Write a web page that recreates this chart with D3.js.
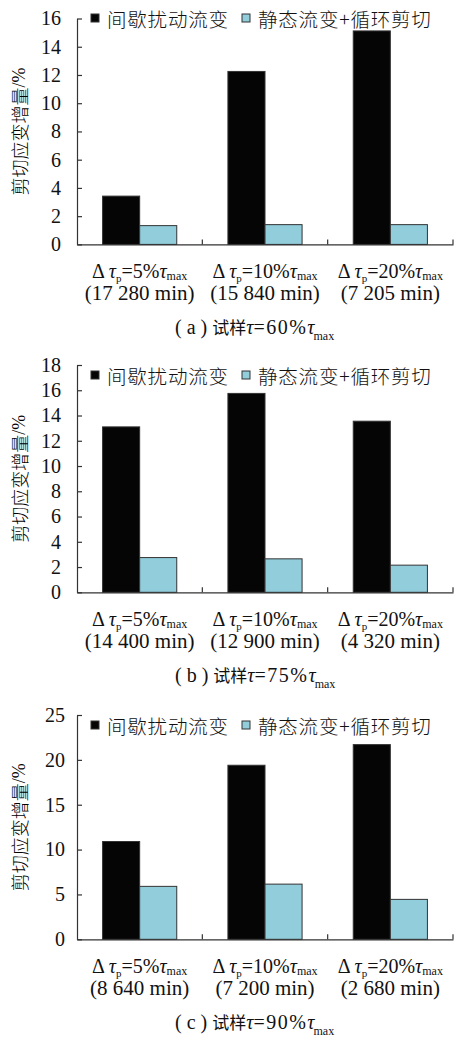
<!DOCTYPE html>
<html>
<head>
<meta charset="utf-8">
<script src="https://cdn.jsdelivr.net/npm/d3@7"></script>
<style>
  html, body { margin: 0; padding: 0; background: #fff; }
  svg { display: block; }
</style>
</head>
<body>
<div class="container"></div>
<script>
// categories: pre-peak disturbance amplitude Δτp (as % of τmax)
var categories = ["5%", "10%", "20%"];
var seriesNames = ["间歇扰动流变", "静态流变+循环剪切"];
var panelLetters = ["a", "b", "c"];
var specimenLevels = ["60%", "75%", "90%"];

var durationsA = ["17 280 min", "15 840 min", "7 205 min"];
var durationsB = ["14 400 min", "12 900 min", "4 320 min"];
var durationsC = ["8 640 min", "7 200 min", "2 680 min"];

// shear strain increment, %
var intermittentA = [3.42, 12.25, 15.12];
var staticCyclicA = [1.33, 1.4, 1.4];
var intermittentB = [13.1, 15.75, 13.55];
var staticCyclicB = [2.75, 2.65, 2.15];
var intermittentC = [10.9, 19.4, 21.7];
var staticCyclicC = [5.9, 6.15, 4.45];

var yTicksA = [0, 2, 4, 6, 8, 10, 12, 14, 16];
var yTicksB = [0, 2, 4, 6, 8, 10, 12, 14, 16, 18];
var yTicksC = [0, 5, 10, 15, 20, 25];

const WIDTH = 454;
const HEIGHT = 1038;
const LEFT = 77;
const RIGHT = 453;
const SERIF = 'Liberation Serif';
const CJK = 'Noto Sans CJK SC';
var colors = ["#050505", "#92cddc"];

var panels = [
	{ letter: panelLetters[0], level: specimenLevels[0], durations: durationsA, series: [intermittentA, staticCyclicA], ticks: yTicksA, top: 18.5, bottom: 244.4, legendY: 18, tickPad: 16 },
	{ letter: panelLetters[1], level: specimenLevels[1], durations: durationsB, series: [intermittentB, staticCyclicB], ticks: yTicksB, top: 365, bottom: 592.3, legendY: 375, tickPad: 16 },
	{ letter: panelLetters[2], level: specimenLevels[2], durations: durationsC, series: [intermittentC, staticCyclicC], ticks: yTicksC, top: 715, bottom: 939.3, legendY: 725, tickPad: 12 }
];

var svg = d3.select('.container').append('svg')
	.attr('width', WIDTH)
	.attr('height', HEIGHT)
	.attr('font-family', SERIF);

var x0 = d3.scaleBand().domain(categories).range([LEFT, RIGHT]).padding(0);
var x1 = d3.scaleBand().domain([0, 1]).range([0, x0.bandwidth()])
	.paddingInner(0).paddingOuter(0.69);

var drawPanel = function(p) {
	var g = svg.append('g').attr('font-family', SERIF).attr('fill', '#111');
	var y = d3.scaleLinear()
		.domain([0, p.ticks[p.ticks.length - 1]])
		.range([p.bottom, p.top]);

	// bars
	p.series.forEach(function(values, si) {
		g.append('g').selectAll('rect').data(values).enter().append('rect')
			.attr('x', function(d, i) { return x0(categories[i]) + x1(si); })
			.attr('y', function(d) { return y(d); })
			.attr('width', x1.bandwidth())
			.attr('height', function(d) { return p.bottom - y(d); })
			.attr('fill', colors[si])
			.attr('stroke', '#333')
			.attr('stroke-width', 1);
	});

	// y axis
	var ya = g.append('g')
		.attr('transform', 'translate(' + LEFT + ',0)')
		.call(d3.axisLeft(y).tickValues(p.ticks)
			.tickSizeInner(-5).tickSizeOuter(0).tickPadding(p.tickPad))
		.attr('font-family', SERIF).attr('font-size', 20);
	ya.selectAll('path, line').attr('stroke', '#333').attr('stroke-width', 1.2);
	ya.selectAll('text').attr('fill', '#111');

	// x axis baseline + boundary ticks pointing up
	var xa = g.append('g')
		.attr('transform', 'translate(0,' + p.bottom + ')')
		.call(d3.axisBottom(x0).tickSize(0).tickFormat(function() { return ''; }));
	xa.select('.domain').attr('stroke', '#333').attr('stroke-width', 1.2);
	xa.selectAll('.boundary').data(categories).enter().append('line')
		.attr('class', 'boundary')
		.attr('x1', function(d) { return x0(d) + x0.bandwidth(); })
		.attr('x2', function(d) { return x0(d) + x0.bandwidth(); })
		.attr('y1', 0).attr('y2', -5)
		.attr('stroke', '#333').attr('stroke-width', 1.2);

	// category labels (two lines)
	categories.forEach(function(c, i) {
		var cx = x0(c) + x0.bandwidth() / 2;
		var t = g.append('text')
			.attr('x', cx).attr('y', p.bottom + 34)
			.attr('text-anchor', 'middle')
			.attr('font-size', 20);
		t.append('tspan').text('Δ ');
		t.append('tspan').attr('font-style', 'italic').text('τ');
		t.append('tspan').attr('font-size', 11).attr('dy', 4).text('p');
		t.append('tspan').attr('dy', -4).text('=' + c);
		t.append('tspan').attr('font-style', 'italic').text('τ');
		t.append('tspan').attr('font-size', 12).attr('dy', 2).text('max');

		g.append('text')
			.attr('x', cx).attr('y', p.bottom + 56)
			.attr('text-anchor', 'middle')
			.attr('font-size', 21)
			.text('(' + p.durations[i] + ')');
	});

	// caption
	var cap = g.append('text')
		.attr('x', 175).attr('y', p.bottom + 90)
		.attr('font-size', 20);
	cap.append('tspan').text('( ' + p.letter + ' ) ');
	cap.append('tspan').attr('font-family', CJK).attr('font-size', 17).text('试样');
	cap.append('tspan').attr('font-style', 'italic').text('τ');
	cap.append('tspan').attr('letter-spacing', 1.5).text('=' + p.level);
	cap.append('tspan').attr('font-style', 'italic').text('τ');
	cap.append('tspan').attr('font-size', 12).attr('dx', -1).attr('dy', 6).text('max');

	// y title
	var yt = g.append('text')
		.attr('transform', 'translate(19,' + ((p.top + p.bottom) / 2) + ') rotate(-90)')
		.attr('text-anchor', 'middle')
		.attr('dominant-baseline', 'central')
		.attr('font-size', 18)
		.attr('fill', '#000');
	yt.append('tspan').attr('font-family', CJK).attr('font-weight', 300).text('剪切应变增量');
	yt.append('tspan').text('/%');

	// legend
	var lx = [91, 242];
	seriesNames.forEach(function(name, si) {
		g.append('rect')
			.attr('x', lx[si]).attr('y', p.legendY - 4)
			.attr('width', 8).attr('height', 8)
			.attr('fill', colors[si])
			.attr('stroke', '#333').attr('stroke-width', 1);
		g.append('text')
			.attr('x', lx[si] + 16).attr('y', p.legendY)
			.attr('dominant-baseline', 'central')
			.attr('font-family', CJK)
			.attr('font-weight', 300)
			.attr('letter-spacing', 0.8)
			.attr('font-size', 19.5)
			.text(name);
	});
};

panels.forEach(drawPanel);
</script>
</body>
</html>
